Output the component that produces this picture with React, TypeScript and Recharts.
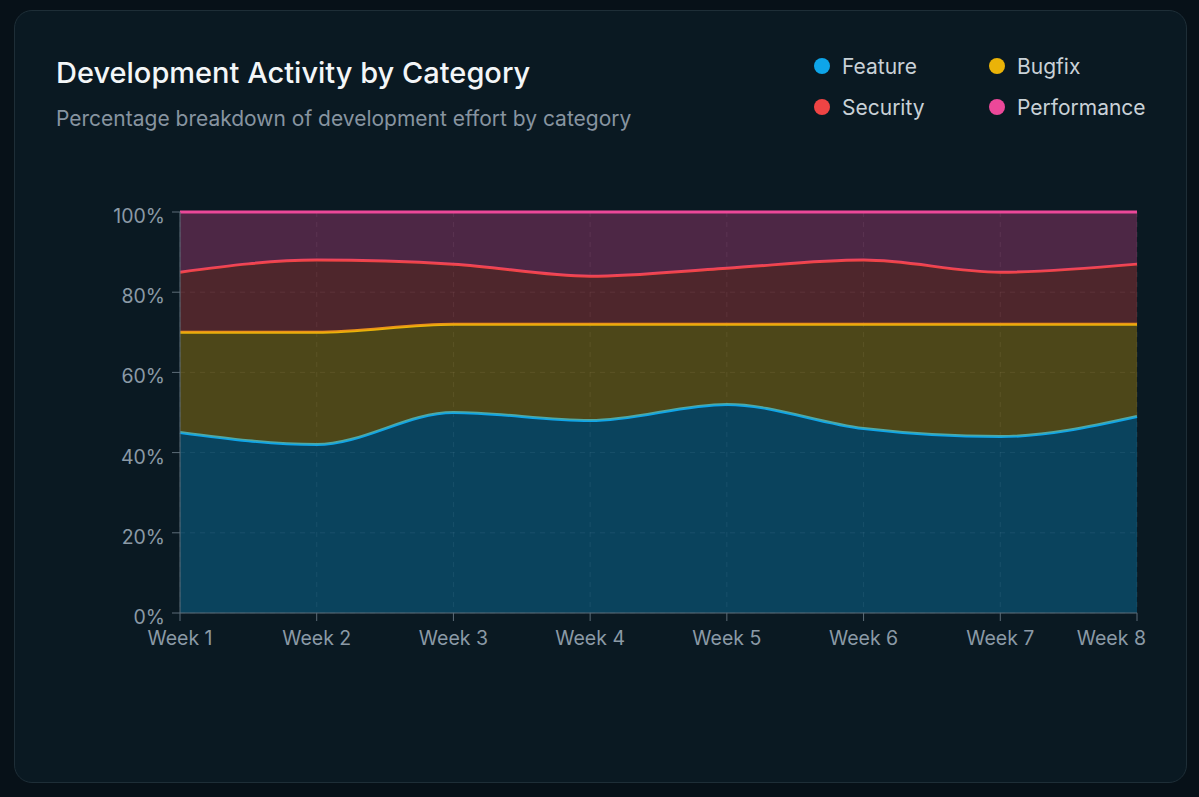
import React from 'react';
import {
  AreaChart,
  Area,
  XAxis,
  YAxis,
  CartesianGrid,
} from 'recharts';

const weeks = ['Week 1', 'Week 2', 'Week 3', 'Week 4', 'Week 5', 'Week 6', 'Week 7', 'Week 8'];
const feature = [45, 42, 50, 48, 52, 46, 44, 49];
const bugfix = [25, 28, 22, 24, 20, 26, 28, 23];
const security = [15, 18, 15, 12, 14, 16, 13, 15];
const performance = [15, 12, 13, 16, 14, 12, 15, 13];
const yTicks = [0, 0.2, 0.4, 0.6, 0.8, 1];

const series = [
  { key: 'feature', name: 'Feature', color: '#0ea5e9' },
  { key: 'bugfix', name: 'Bugfix', color: '#eab308' },
  { key: 'security', name: 'Security', color: '#ef4444' },
  { key: 'performance', name: 'Performance', color: '#ec4899' },
];

const data = weeks.map((week, i) => ({
  week,
  feature: feature[i],
  bugfix: bugfix[i],
  security: security[i],
  performance: performance[i],
}));

const font = 'Inter, "Noto Sans", sans-serif';
const tickColor = '#8b9aa6';
const axisColor = '#5d6d78';

const XTick = (props: any) => {
  const { x, y, payload, index } = props;
  const last = index === weeks.length - 1;
  return (
    <text
      x={last ? x + 9 : x}
      y={y}
      dy='0.71em'
      textAnchor={last ? 'end' : 'middle'}
      fill={tickColor}
      fontSize={19.5}
      fontFamily={font}
    >
      {payload.value}
    </text>
  );
};

const YTick = (props: any) => {
  const { x, y, payload } = props;
  return (
    <text
      x={x}
      y={y + 4}
      dy='0.355em'
      textAnchor='end'
      fill={tickColor}
      fontSize={19.5}
      fontFamily={font}
    >
      {`${Math.round(payload.value * 100)}%`}
    </text>
  );
};

const App = () => (
  <div style={{ position: 'fixed', inset: 0, background: '#071118', fontFamily: font }}>
    <div
      style={{
        position: 'absolute',
        left: 14,
        top: 10,
        width: 1171,
        height: 771,
        background: '#0a1922',
        border: '1px solid #1e2e37',
        borderRadius: 18,
      }}
    >
      <div style={{ position: 'absolute', left: 41, top: 44, color: '#f3f6f8', fontSize: 29, fontWeight: 500 }}>
        Development Activity by Category
      </div>
      <div style={{ position: 'absolute', left: 41, top: 95, color: '#8794a0', fontSize: 21 }}>
        Percentage breakdown of development effort by category
      </div>
      <div
        style={{
          position: 'absolute',
          left: 799,
          top: 42,
          display: 'grid',
          gridTemplateColumns: '175px 175px',
          rowGap: 15,
        }}
      >
        {series.map((s) => (
          <div key={s.key} style={{ display: 'flex', alignItems: 'center', height: 26 }}>
            <span
              style={{
                width: 16,
                height: 16,
                borderRadius: '50%',
                background: s.color,
                marginRight: 12,
                display: 'inline-block',
              }}
            />
            <span style={{ color: '#c9d1d7', fontSize: 21 }}>{s.name}</span>
          </div>
        ))}
      </div>
      <div style={{ position: 'absolute', left: -1, top: 179 }}>
        <AreaChart
          width={1173}
          height={480}
          data={data}
          stackOffset='expand'
          margin={{ top: 22, right: 50, bottom: 27, left: 0 }}
        >
          <CartesianGrid strokeDasharray='5 5' stroke='rgba(255,255,255,0.08)' />
          <XAxis
            dataKey='week'
            tick={<XTick />}
            tickSize={8}
            tickMargin={10}
            stroke={axisColor}
            interval={0}
            height={30}
          />
          <YAxis
            ticks={yTicks}
            domain={[0, 1]}
            tick={<YTick />}
            tickSize={8}
            tickMargin={7}
            stroke={axisColor}
            width={166}
          />
          {series.map((s) => (
            <Area
              key={s.key}
              type='monotone'
              dataKey={s.key}
              name={s.name}
              stackId='1'
              stroke={s.color}
              strokeWidth={3}
              fill={s.color}
              fillOpacity={0.3}
              isAnimationActive={false}
            />
          ))}
        </AreaChart>
      </div>
    </div>
  </div>
);

export default App;
